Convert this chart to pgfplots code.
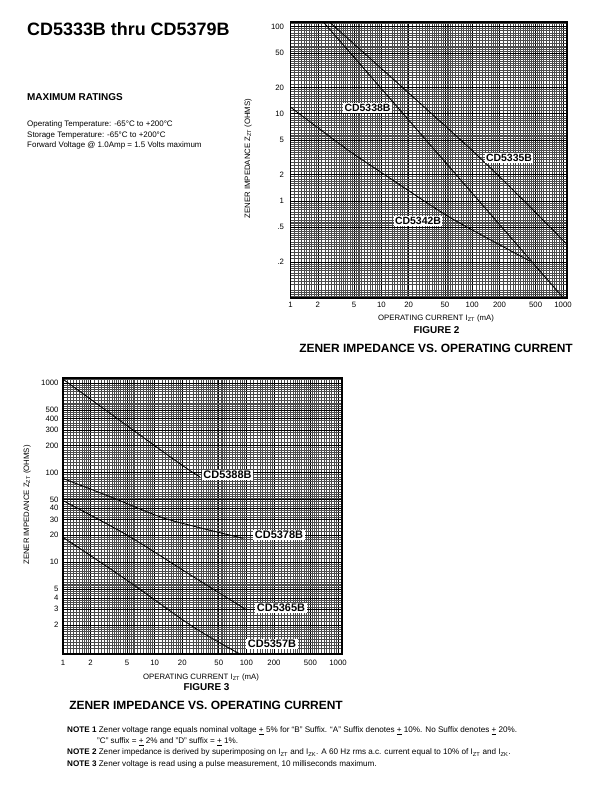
\documentclass[border=0pt]{standalone}
\usepackage{fontspec}
\setmainfont{Liberation Sans}
\usepackage{pgfplots}
\pgfplotsset{compat=1.18}
\newcommand{\fz}[2]{\fontsize{#1}{#2}\selectfont}
\begin{document}
\begin{tikzpicture}[x=1bp,y=1bp]
\useasboundingbox (0,0) rectangle (612,792);
\fill[white] (0,0) rectangle (612,792);

% header text
\node[anchor=base west, inner sep=0, font=\fz{18}{20}\bfseries] at (27,756) {CD5333B thru CD5379B};
\node[anchor=base west, inner sep=0, font=\fz{10}{12}\bfseries] at (27,691.5) {MAXIMUM RATINGS};
\node[anchor=base west, inner sep=0, font=\fz{8}{9}] at (27,665) {Operating Temperature: -65°C to +200°C};
\node[anchor=base west, inner sep=0, font=\fz{8}{9}] at (27,654.5) {Storage Temperature: -65°C to +200°C};
\node[anchor=base west, inner sep=0, font=\fz{8}{9}] at (27,644) {Forward Voltage @ 1.0Amp = 1.5 Volts maximum};

% Figure 2
\begin{axis}[xmode=log, ymode=log, scale only axis, anchor=south west,
  at={(290.5bp,494bp)}, width=276.5bp, height=276bp,
  axis line style={line width=1.2pt},
  grid=both,
  major grid style={black, line width=0.55pt},
  minor grid style={black!70, line width=0.28pt},
  major tick length=0pt, minor tick length=0pt,
  tick label style={font=\fz{7.8}{9}},
  xticklabel style={yshift=-1pt},
  yticklabel style={xshift=-3pt},
  xmin=1, xmax=1107, ymin=0.077, ymax=113,
  xtick={1,2,5,10,20,50,100,200,500,1000},
  xticklabels={1,2,5,10,20,50,100,200,500,1000},
  minor xtick={1.1,1.2,1.3,1.4,1.5,1.6,1.7,1.8,1.9,2.2,2.4,2.6,2.8,3,3.2,3.4,3.6,3.8,4,4.25,4.5,4.75,5.25,5.5,5.75,6,6.5,7,7.5,8,8.5,9,9.5,11,12,13,14,15,16,17,18,19,22,24,26,28,30,32,34,36,38,40,42.5,45,47.5,52.5,55,57.5,60,65,70,75,80,85,90,95,110,120,130,140,150,160,170,180,190,220,240,260,280,300,320,340,360,380,400,425,450,475,525,550,575,600,650,700,750,800,850,900,950},
  ytick={0.2,0.5,1,2,5,10,20,50,100},
  yticklabels={.2,.5,1,2,5,10,20,50,100},
  minor ytick={0.08,0.085,0.09,0.095,0.11,0.12,0.13,0.14,0.15,0.16,0.17,0.18,0.19,0.22,0.24,0.26,0.28,0.3,0.32,0.34,0.36,0.38,0.4,0.425,0.45,0.475,0.525,0.55,0.575,0.6,0.65,0.7,0.75,0.8,0.85,0.9,0.95,1.1,1.2,1.3,1.4,1.5,1.6,1.7,1.8,1.9,2.2,2.4,2.6,2.8,3,3.2,3.4,3.6,3.8,4,4.25,4.5,4.75,5.25,5.5,5.75,6,6.5,7,7.5,8,8.5,9,9.5,11,12,13,14,15,16,17,18,19,22,24,26,28,30,32,34,36,38,40,42.5,45,47.5,52.5,55,57.5,60,65,70,75,80,85,90,95,110},
  /pgf/number format/assume math mode=true,
]
\addplot[black, line width=0.9pt, mark=none] coordinates {(2.30,113) (1010,0.077)};
\addplot[black, line width=0.9pt, mark=none, smooth] coordinates {(2.68,113) (113,3.36) (1100,0.32)};
\addplot[black, line width=0.9pt, mark=none, smooth] coordinates {(1,11.9) (4.2,3.9) (8.9,2.3) (41,0.8) (88,0.5) (437,0.203)};
\end{axis}

\node[fill=white, inner sep=1.5pt, font=\fz{10.5}{12}\bfseries] at (367.5,684) {CD5338B};
\node[fill=white, inner sep=1.5pt, font=\fz{10.5}{12}\bfseries] at (509,634) {CD5335B};
\node[fill=white, inner sep=1.5pt, font=\fz{10.5}{12}\bfseries] at (418,571) {CD5342B};

\node[rotate=90, font=\fz{7.8}{9}] at (248,633.5) {ZENER IMPEDANCE Z\textsubscript{ZT} (OHMS)};
\node[font=\fz{7.8}{9}] at (436,474) {OPERATING CURRENT I\textsubscript{ZT} (mA)};
\node[font=\fz{10}{12}\bfseries] at (436.5,462) {FIGURE 2};
\node[font=\fz{12}{14}\bfseries] at (436,444) {ZENER IMPEDANCE VS. OPERATING CURRENT};

% Figure 3
\begin{axis}[xmode=log, ymode=log, scale only axis, anchor=south west,
  at={(63bp,138bp)}, width=279bp, height=276bp,
  axis line style={line width=1.8pt},
  grid=both,
  major grid style={black, line width=0.55pt},
  minor grid style={black!70, line width=0.28pt},
  major tick length=0pt, minor tick length=0pt,
  tick label style={font=\fz{7.8}{9}},
  xticklabel style={yshift=-3pt},
  yticklabel style={xshift=-1pt},
  xmin=1, xmax=1105, ymin=0.95, ymax=1135,
  xtick={1,2,5,10,20,50,100,200,500,1000},
  xticklabels={1,2,5,10,20,50,100,200,500,1000},
  minor xtick={1.1,1.2,1.3,1.4,1.5,1.6,1.7,1.8,1.9,2.2,2.4,2.6,2.8,3,3.2,3.4,3.6,3.8,4,4.25,4.5,4.75,5.25,5.5,5.75,6,6.5,7,7.5,8,8.5,9,9.5,11,12,13,14,15,16,17,18,19,22,24,26,28,30,32,34,36,38,40,42.5,45,47.5,52.5,55,57.5,60,65,70,75,80,85,90,95,110,120,130,140,150,160,170,180,190,220,240,260,280,300,320,340,360,380,400,425,450,475,525,550,575,600,650,700,750,800,850,900,950},
  ytick={2,3,4,5,10,20,30,40,50,100,200,300,400,500,1000},
  yticklabels={2,3,4,5,10,20,30,40,50,100,200,300,400,500,1000},
  minor ytick={1.1,1.2,1.3,1.4,1.5,1.6,1.7,1.8,1.9,2.2,2.4,2.6,2.8,3.2,3.4,3.6,3.8,4.25,4.5,4.75,5.25,5.5,5.75,6,6.5,7,7.5,8,8.5,9,9.5,11,12,13,14,15,16,17,18,19,22,24,26,28,32,34,36,38,42.5,45,47.5,52.5,55,57.5,60,65,70,75,80,85,90,95,110,120,130,140,150,160,170,180,190,220,240,260,280,320,340,360,380,425,450,475,525,550,575,600,650,700,750,800,850,900,950,1100},
  /pgf/number format/assume math mode=true,
]
\addplot[black, line width=0.9pt, mark=none, smooth] coordinates {(1,1100) (15.9,142) (31,90)};
\addplot[black, line width=0.9pt, mark=none, smooth] coordinates {(1,86) (3.26,53.9) (11.4,32.2) (30,24.5) (92.5,18.5)};
\addplot[black, line width=0.9pt, mark=none, smooth] coordinates {(1,48.7) (4.95,20.2) (26.4,6.9) (100.7,2.94)};
\addplot[black, line width=0.9pt, mark=none, smooth] coordinates {(1,19) (4.95,6.35) (26.4,1.9) (85,0.95)};
\end{axis}

\node[fill=white, inner sep=1.5pt, font=\fz{11}{13}\bfseries] at (227.5,317) {CD5388B};
\node[fill=white, inner sep=1.5pt, font=\fz{11}{13}\bfseries] at (279,257) {CD5378B};
\node[fill=white, inner sep=1.5pt, font=\fz{11}{13}\bfseries] at (281,184) {CD5365B};
\node[fill=white, inner sep=1.5pt, font=\fz{11}{13}\bfseries] at (272,148) {CD5357B};

\node[rotate=90, font=\fz{7.8}{9}] at (27,287) {ZENER IMPEDANCE Z\textsubscript{ZT} (OHMS)};
\node[font=\fz{7.8}{9}] at (201,115) {OPERATING CURRENT I\textsubscript{ZT} (mA)};
\node[font=\fz{10}{12}\bfseries] at (206.5,105) {FIGURE 3};
\node[font=\fz{12}{14}\bfseries] at (206,87) {ZENER IMPEDANCE VS. OPERATING CURRENT};

% notes
\node[anchor=base west, inner sep=0, font=\fz{8.15}{9}] at (67,59) {\textbf{NOTE 1} Zener voltage range equals nominal voltage \underline{+} 5\% for “B” Suffix. “A” Suffix denotes \underline{+} 10\%. No Suffix denotes \underline{+} 20\%.};
\node[anchor=base west, inner sep=0, font=\fz{8.15}{9}] at (97,48) {"C" suffix = \underline{+} 2\% and "D" suffix = \underline{+} 1\%.};
\node[anchor=base west, inner sep=0, font=\fz{8.15}{9}] at (67,37) {\textbf{NOTE 2} Zener impedance is derived by superimposing on I\textsubscript{ZT} and I\textsubscript{ZK}. A 60 Hz rms a.c. current equal to 10\% of I\textsubscript{ZT} and I\textsubscript{ZK}.};
\node[anchor=base west, inner sep=0, font=\fz{8.15}{9}] at (67,25) {\textbf{NOTE 3} Zener voltage is read using a pulse measurement, 10 milliseconds maximum.};
\end{tikzpicture}
\end{document}
